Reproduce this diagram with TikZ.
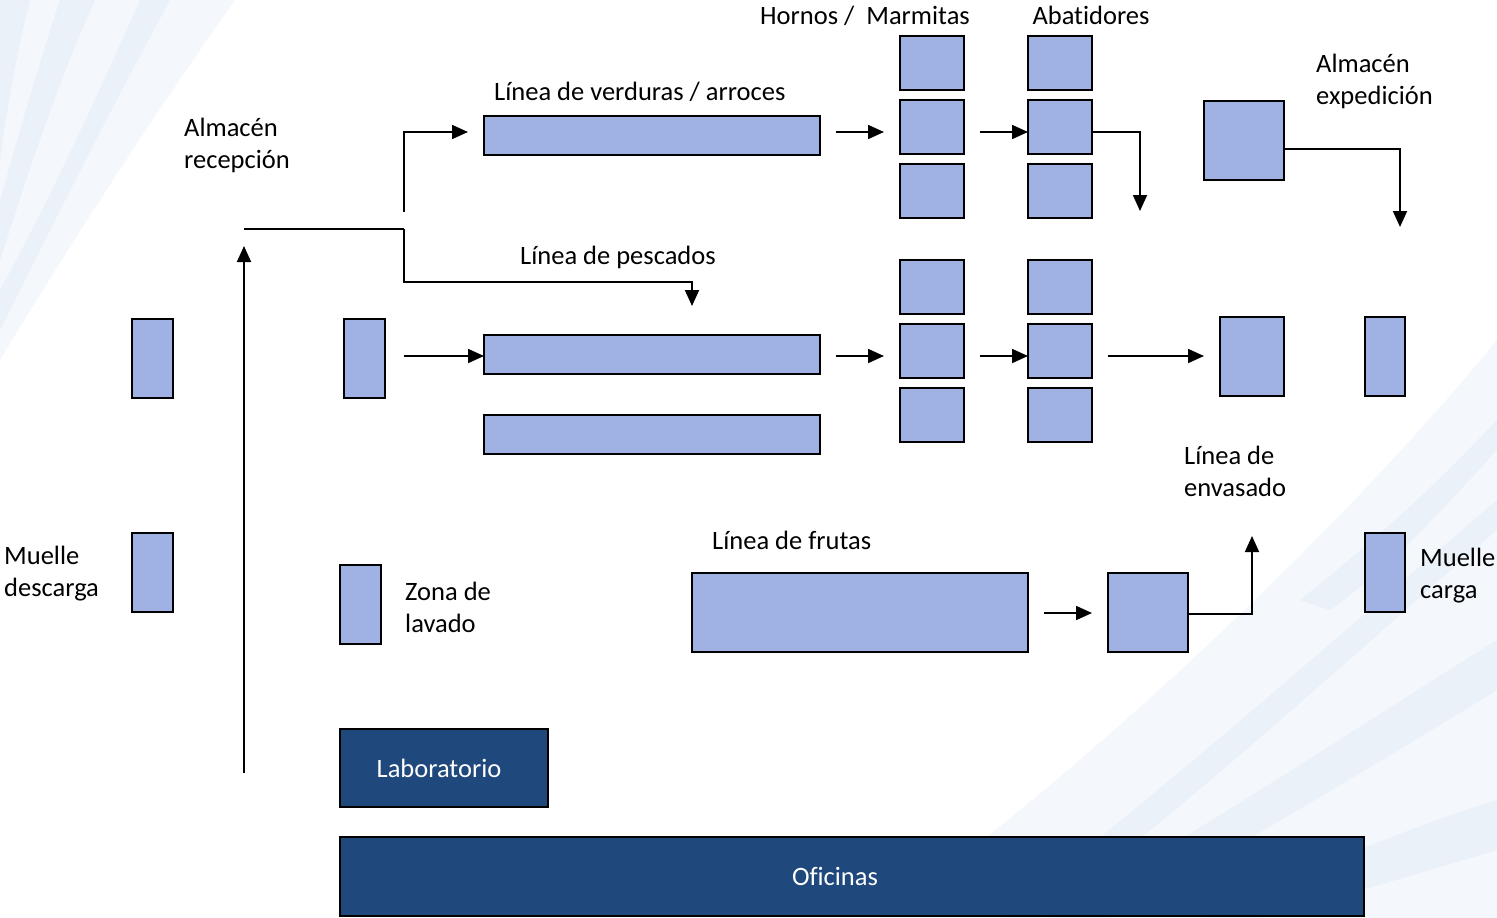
\documentclass[tikz,border=0pt]{standalone}
\usepackage{fontspec}
\setmainfont{Carlito}[Ligatures=NoCommon]
\usetikzlibrary{arrows.meta}
\definecolor{boxfill}{RGB}{160,178,228}
\definecolor{navy}{RGB}{31,73,124}
\definecolor{haze}{RGB}{222,232,245}
\definecolor{hazeb}{RGB}{238,243,250}
\begin{document}
\begin{tikzpicture}[x=1pt,y=-1pt,
  blk/.style={draw=black,line width=1.6pt,fill=boxfill,inner sep=0pt,outer sep=0pt},
  dark/.style={draw=black,line width=1.6pt,fill=navy,inner sep=0pt,outer sep=0pt,text=white},
  lbl/.style={inner sep=0pt,align=left,font=\fontsize{26.5}{32}\selectfont},
  arr/.style={line width=1.8pt,-{Triangle[length=16pt,width=14pt]}},
  ln/.style={line width=1.8pt},
  gap/.style={shorten <=16pt,shorten >=16pt},
  band/.style={fill=haze,opacity=0.4},
  bandb/.style={fill=hazeb,opacity=0.6}]
\useasboundingbox (0,0) rectangle (1497,918);
\fill[white] (0,0) rectangle (1497,918);

% soft streaks in the corners
\fill[bandb] (0,0) -- (235,0) .. controls (150,120) and (60,260) .. (0,360) -- cycle;
\fill[band] (60,0) -- (95,0) .. controls (50,100) and (20,200) .. (0,260) -- (0,200) .. controls (20,130) and (40,60) .. cycle;
\fill[band] (140,0) -- (170,0) .. controls (110,110) and (50,230) .. (0,330) -- (0,290) .. controls (50,200) and (100,90) .. cycle;
\fill[band] (0,0) -- (30,0) .. controls (15,60) and (5,120) .. (0,160) -- cycle;
\fill[bandb] (880,918) .. controls (1100,760) and (1350,520) .. (1497,340) -- (1497,918) -- cycle;
\fill[band] (1050,918) .. controls (1250,800) and (1400,700) .. (1497,640) -- (1497,690) .. controls (1400,750) and (1250,840) .. (1110,918) -- cycle;
\fill[band] (1200,918) .. controls (1330,860) and (1430,820) .. (1497,800) -- (1497,850) .. controls (1430,870) and (1330,900) .. (1260,918) -- cycle;
\fill[band] (1000,918) .. controls (1200,760) and (1380,600) .. (1497,500) -- (1497,530) .. controls (1380,630) and (1220,780) .. (1040,918) -- cycle;
\fill[band] (1300,600) .. controls (1400,520) and (1450,470) .. (1497,420) -- (1497,450) .. controls (1450,500) and (1400,560) .. (1330,610) -- cycle;

% rows used by the horizontal connectors
\coordinate (row1) at (0,132);
\coordinate (row2) at (0,356);
\coordinate (row3) at (0,613);

% equipment
\node[blk,minimum width=41,minimum height=79] (mdA) at (152.5,358.5) {};
\node[blk,minimum width=41,minimum height=79] (mdB) at (152.5,572.5) {};
\node[blk,minimum width=41,minimum height=79] (recep) at (364.5,358.5) {};
\node[blk,minimum width=41,minimum height=79] (lav) at (360.5,604.5) {};
\node[blk,minimum width=336,minimum height=39] (verd) at (652,135.5) {};
\node[blk,minimum width=336,minimum height=39] (pesc) at (652,354.5) {};
\node[blk,minimum width=336,minimum height=39] (pescb) at (652,434.5) {};
\foreach \i/\y in {1/63,2/127,3/191,4/287,5/351,6/415}{
  \node[blk,minimum width=64,minimum height=54] (h\i) at (932,\y) {};
  \node[blk,minimum width=64,minimum height=54] (a\i) at (1060,\y) {};
}
\node[blk,minimum width=80,minimum height=79] (expd) at (1244,140.5) {};
\node[blk,minimum width=64,minimum height=79] (env) at (1252,356.5) {};
\node[blk,minimum width=40,minimum height=79] (mcA) at (1385,356.5) {};
\node[blk,minimum width=40,minimum height=79] (mcB) at (1385,572.5) {};
\node[blk,minimum width=336,minimum height=79] (frut) at (860,612.5) {};
\node[blk,minimum width=80,minimum height=79] (frutb) at (1148,612.5) {};
\node[dark,minimum width=208,minimum height=78,font=\fontsize{26.5}{32}\selectfont] (lab) at (444,768) {Laboratorio\hspace*{10pt}};
\node[dark,minimum width=1024,minimum height=79,font=\fontsize{26.5}{32}\selectfont] (ofi) at (852,876.5) {Oficinas\hspace*{34pt}};

% labels (multi-line labels are anchored on their last line)
\node[lbl,anchor=base] (tHorn) at (865,24) {Hornos /\ \ Marmitas};
\node[lbl,anchor=base] (tAbat) at (1091,24) {Abatidores};
\node[lbl,anchor=base west] (tExp) at (1316,104) {Almacén\\expedición};
\node[lbl,anchor=base west] (tVerd) at (494,100) {Línea de verduras / arroces};
\node[lbl,anchor=base west] (tRec) at (184,168) {Almacén\\recepción};
\node[lbl,anchor=base west] (tPesc) at (520,264) {Línea de pescados};
\node[lbl,anchor=base west] (tEnv) at (1184,496) {Línea de\\envasado};
\node[lbl,anchor=base west] (tFrut) at (712,549) {Línea de frutas};
\node[lbl,anchor=base west] (tMd) at (4,596) {Muelle\\descarga};
\node[lbl,anchor=base west] (tLav) at (405,632) {Zona de\\lavado};
\node[lbl,anchor=base west] (tMc) at (1420,598) {Muelle\\carga};

% free ends and bends of the flow lines
\coordinate (upS) at (244,773);
\coordinate (upE) at (244,246);
\coordinate (splitA) at (244,229);
\coordinate (splitB) at (404,229);
\coordinate (bendP) at (404,282);
\coordinate (pescIn) at (692,306);
\coordinate (verdS) at (404,212);
\coordinate (verdIn) at (468,132);
\coordinate (abatOut) at (1140,211);
\coordinate (expOut) at (1400,227);
\coordinate (envIn) at (1252,536);

% flow
\draw[arr] (upS) -- (upE);
\draw[ln] (splitA) -- (splitB);
\draw[arr] (splitB) -- (bendP) -| (pescIn);
\draw[arr] (verdS) |- (verdIn);
\draw[arr,gap] (verd.east |- row1) -- (h2.west |- row1);
\draw[arr,shorten <=16pt] (h2.east |- row1) -- (a2.west |- row1);
\draw[arr] (a2.east |- row1) -| (abatOut);
\draw[arr] (expd.east |- 0,149) -| (expOut);
\draw[arr,shorten <=19pt] (recep.east |- row2) -- (pesc.west |- row2);
\draw[arr,gap] (pesc.east |- row2) -- (h5.west |- row2);
\draw[arr,shorten <=16pt] (h5.east |- row2) -- (a5.west |- row2);
\draw[arr,gap] (a5.east |- row2) -- (env.west |- row2);
\draw[arr,gap] (frut.east |- row3) -- (frutb.west |- row3);
\draw[arr] (frutb.east |- 0,614) -| (envIn);
\end{tikzpicture}
\end{document}
